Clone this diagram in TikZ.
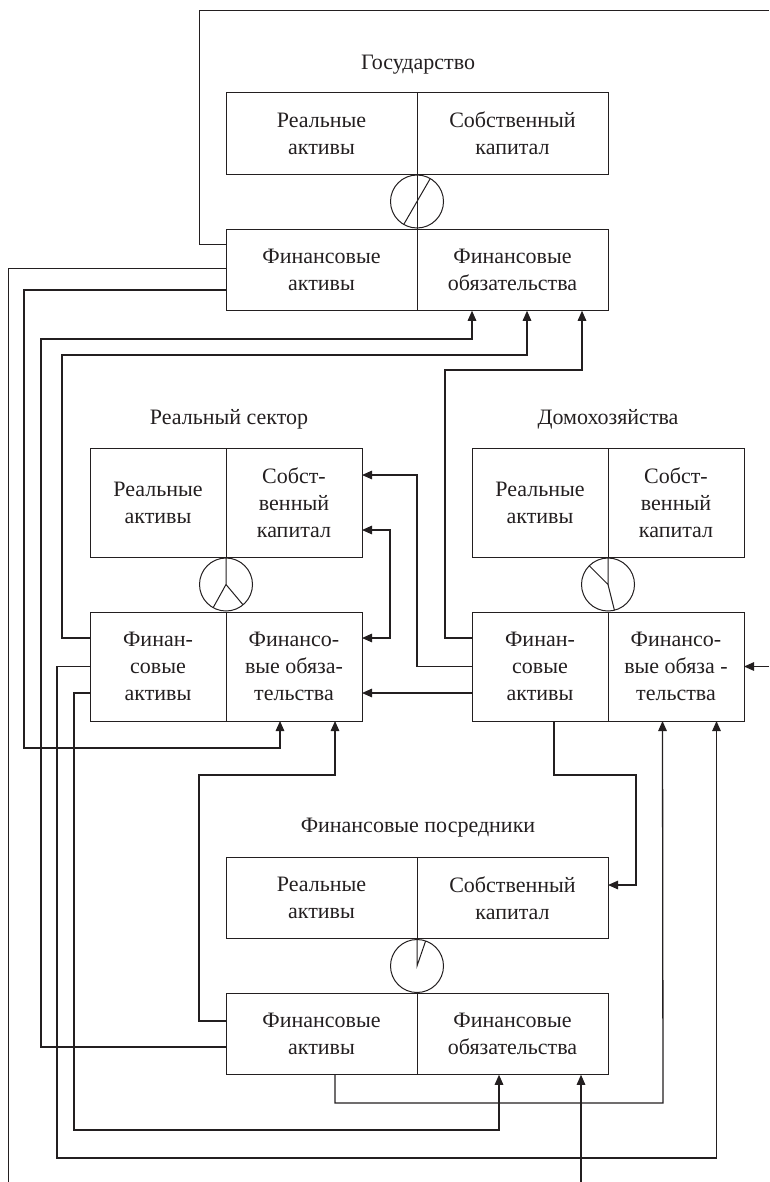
\documentclass[tikz,border=0pt]{standalone}
\usepackage{fontspec}
\setmainfont{Liberation Serif}
\usetikzlibrary{arrows.meta, positioning}
\definecolor{inkgray}{HTML}{231F20}

\begin{document}
\begin{tikzpicture}[
  x=1pt, y=-1pt,
  >={Triangle[length=10pt, width=8.5pt]},
  every node/.style={font=\fontsize{22}{27}\selectfont, text=inkgray},
  half/.style={draw=inkgray, line width=1pt, inner sep=0pt, outer sep=0pt, align=center, minimum width=191pt, minimum height=81.5pt},
  narrow/.style={half, minimum width=136pt, minimum height=109pt},
  clock/.style={circle, draw=inkgray, line width=1pt, inner sep=0pt, outer sep=0pt, minimum size=53pt},
  link/.style={draw=inkgray, line width=1pt},
  flow/.style={link, line width=1.3pt, ->},
]
  \useasboundingbox (0,0) rectangle (769,1182);

  % Headers
  \node (gTitle) at (418,65) {Государство};
  \node (rTitle) at (229,419) {Реальный сектор};
  \node (hTitle) at (608,419) {Домохозяйства};
  \node (fTitle) at (418,828) {Финансовые посредники};

  % State
  \node[half] (gRA) at (321.5,133.5) {Реальные\\активы};
  \node[half, right=0pt of gRA] (gEQ) {Собственный\\капитал};
  \node[half] (gFA) at (321.5,270) {Финансовые\\активы};
  \node[half, right=0pt of gFA] (gFL) {Финансовые\\обязательства};
  \node[clock] (gClock) at (417,201.5) {};
  \draw[link] (gRA.south east) -- (gFA.north east);
  \draw[link] (gClock.60) -- (gClock.240);

  % Real sector
  \node[narrow] (rRA) at (158,502.5) {Реальные\\активы};
  \node[narrow, right=0pt of rRA] (rEQ) {Собст-\\венный\\капитал};
  \node[narrow] (rFA) at (158,666.5) {Финан-\\совые\\активы};
  \node[narrow, right=0pt of rFA] (rFL) {Финансо-\\вые обяза-\\тельства};
  \node[clock] (rClock) at (226,584.5) {};
  \draw[link] (rRA.south east) -- (rClock.center) -- (rClock.241);
  \draw[link] (rClock.center) -- (rClock.310);

  % Households
  \node[narrow] (hRA) at (540,502.5) {Реальные\\активы};
  \node[narrow, right=0pt of hRA] (hEQ) {Собст-\\венный\\капитал};
  \node[narrow] (hFA) at (540,666.5) {Финан-\\совые\\активы};
  \node[narrow, right=0pt of hFA] (hFL) {Финансо-\\вые обяза -\\тельства};
  \node[clock] (hClock) at (608,584.5) {};
  \draw[link] (hRA.south east) -- (hClock.center) -- (hClock.135);
  \draw[link] (hClock.center) -- (hClock.284);

  % Financial intermediaries
  \node[half] (fRA) at (321.5,898) {Реальные\\активы};
  \node[half, right=0pt of fRA] (fEQ) {Собственный\\капитал};
  \node[half] (fFA) at (321.5,1034) {Финансовые\\активы};
  \node[half, right=0pt of fFA] (fFL) {Финансовые\\обязательства};
  \node[clock] (fClock) at (417,966) {};
  \draw[link] (fRA.south east) -- (fClock.center) -- (fClock.71);

  % Free ends
  \coordinate (gOut) at (769,11);
  \coordinate (gDown) at (8,1182);
  \coordinate (hIn) at (769,666.5);
  \coordinate (fIn) at (581,1182);

  % Flows out of the state
  \draw[link] ([yshift=25pt]gFA.west) -- ++(-27,0) |- (gOut);
  \draw[link] ([yshift=2pt]gFA.west) -| (gDown);
  \draw[flow] ([yshift=-20pt]gFA.west) -| (24,748) -| ([xshift=-14pt]rFL.south);

  % Flows into state liabilities
  \draw[flow] ([yshift=-13pt]fFA.west) -| (41,339) -| ([xshift=-40.5pt]gFL.south);
  \draw[flow] ([yshift=28.5pt]rFA.west) -| (62,355) -| ([xshift=14.5pt]gFL.south);
  \draw[flow] ([yshift=28.5pt]hFA.west) -| (445,370) -| ([xshift=69.5pt]gFL.south);

  % Households to real sector
  \draw[flow] (hFA.west) -| (417,475) -- ([yshift=27.5pt]rEQ.east);
  \draw[flow] ([yshift=-26.5pt]hFA.west) -- ([yshift=-26.5pt]rFL.east);
  \draw[flow, <->] ([yshift=-27.5pt]rEQ.east) -- ++(28,0) |- ([yshift=28.5pt]rFL.east);

  % Households liabilities and equity of intermediaries
  \draw[flow] (hIn) -- (hFL.east);
  \draw[flow] ([xshift=14pt]hFA.south) |- (636,775) |- ([yshift=13pt]fEQ.east);
  \draw[flow] ([xshift=13.5pt]fFA.south) |- (663,1103) -- ([xshift=-13.5pt]hFL.south);
  \draw[flow] (rFA.west) -| (57,1158) -| ([xshift=40.5pt]hFL.south);

  % Intermediaries
  \draw[flow] ([yshift=13pt]fFA.west) -| (199,775) -| ([xshift=41pt]rFL.south);
  \draw[flow] ([yshift=-26.5pt]rFA.west) -| (74,1130) -| ([xshift=-13.5pt]fFL.south);
  \draw[flow] (fIn) -- ([xshift=68.5pt]fFL.south);

\end{tikzpicture}
\end{document}
